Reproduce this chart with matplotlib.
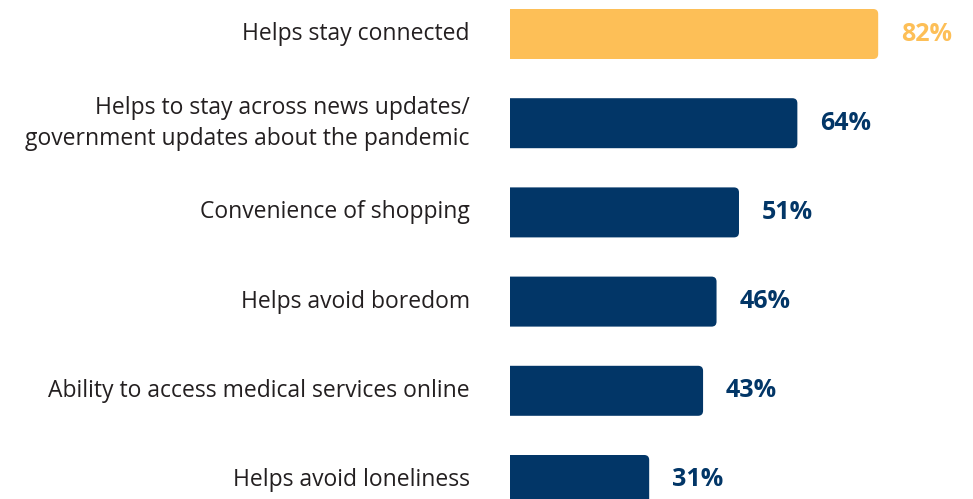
import matplotlib
matplotlib.use("Agg")
import matplotlib.pyplot as plt
from matplotlib.patches import FancyBboxPatch

categories = [
    "Helps stay connected",
    "Helps to stay across news updates/\ngovernment updates about the pandemic",
    "Convenience of shopping",
    "Helps avoid boredom",
    "Ability to access medical services online",
    "Helps avoid loneliness",
]
values = [82, 64, 51, 46, 43, 31]
highlight = [True, False, False, False, False, False]

YELLOW = "#FDBF57"
NAVY = "#023667"
TEXT = "#231F20"

plt.rcParams["font.family"] = ["Open Sans", "DejaVu Sans"]

W, H, DPI = 973, 499, 100
fig = plt.figure(figsize=(W / DPI, H / DPI), dpi=DPI)

# axes start where the bars begin and run to the right edge
left_px = 510
ax = fig.add_axes([left_px / W, 0, (W - left_px) / W, 1])

px_per_unit_x = 4.49
row_px = 89.2
first_center_px = 34
ax.set_xlim(0, (W - left_px) / px_per_unit_x)
ax.set_ylim((H - first_center_px) / row_px, -first_center_px / row_px)
ax.axis("off")

bar_h = 50 / row_px
radius_px = 5
aspect = (1 / row_px) / (1 / px_per_unit_x)

for i, (cat, v, hl) in enumerate(zip(categories, values, highlight)):
    color = YELLOW if hl else NAVY
    extra = 3  # push the left edge past the axes so only the right end is rounded
    patch = FancyBboxPatch(
        (-extra, i - bar_h / 2), v + extra, bar_h,
        boxstyle=f"round,pad=0,rounding_size={radius_px / px_per_unit_x}",
        mutation_aspect=aspect,
        facecolor=color, edgecolor="none", clip_on=True,
    )
    ax.add_patch(patch)
    ax.annotate(f"{v}%", xy=(v, i), xytext=(16.5, 0), textcoords="offset points",
                ha="left", va="center", fontsize=18, fontweight="bold",
                color=color)
    ax.annotate(cat, xy=(0, i), xytext=(-29, 0), textcoords="offset points",
                ha="right", va="center", fontsize=16.5, color=TEXT,
                linespacing=1.4, annotation_clip=False)

fig.savefig("out.png", dpi=DPI)
